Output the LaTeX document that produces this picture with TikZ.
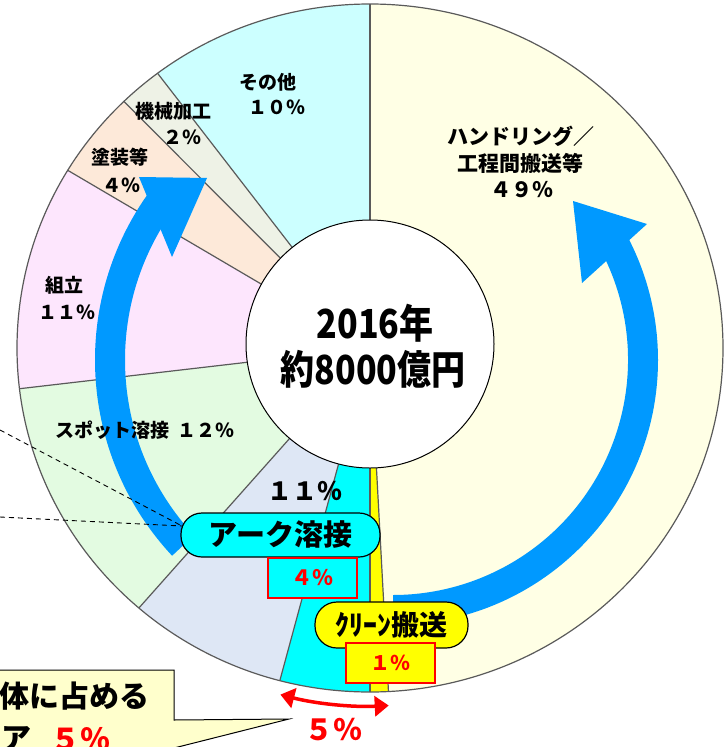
\documentclass[tikz,border=0pt]{standalone}
\usepackage{graphicx}
\usepackage{fontspec}
\setmainfont{Noto Sans CJK JP}
\usetikzlibrary{arrows.meta,calc}
\definecolor{handc}{HTML}{FFFFE5}
\definecolor{othc}{HTML}{CCFFFF}
\definecolor{machc}{HTML}{EEF2E6}
\definecolor{paintc}{HTML}{FDE9D9}
\definecolor{assyc}{HTML}{FDE6FD}
\definecolor{spotc}{HTML}{E3FBE1}
\definecolor{weldc}{HTML}{DEE7F5}
\definecolor{arcc}{HTML}{00FFFF}
\definecolor{cleanc}{HTML}{FFFF00}
\definecolor{bluec}{HTML}{0099FF}
\definecolor{callc}{HTML}{FFFFCC}
\definecolor{linec}{HTML}{5A5A5A}
\tikzset{
  pieline/.style={draw=linec, line width=1.2pt},
  lab/.style={font=\bfseries\fontsize{19}{22}\selectfont, inner sep=0pt},
  labbig/.style={font=\bfseries\fontsize{21}{24}\selectfont, inner sep=0pt},
  pill/.style={draw=black, line width=1.2pt, rounded corners=21pt, minimum width=199pt,
    minimum height=44pt, inner sep=0pt, font=\bfseries\fontsize{29}{32}\selectfont},
  redbox/.style={draw=red, line width=1.5pt, minimum width=89pt, minimum height=40pt,
    inner sep=0pt, text=red, font=\bfseries\fontsize{21}{24}\selectfont},
  callfont/.style={font=\bfseries\fontsize{30}{34}\selectfont, inner sep=0pt},
  bluefill/.style={fill=bluec},
}
\newcommand\pieslice[3]{\fill[#3] (370,348) -- ++(#1:353 and 344)
  arc[start angle=#1, end angle=#2, x radius=353, y radius=344] -- cycle;}
\begin{document}
\begin{tikzpicture}[x=1pt, y=-1pt]
\useasboundingbox (0,0) rectangle (728,747);
% pie slices
\pieslice{-90}{87}{handc}
\pieslice{87}{90}{cleanc}
\pieslice{90}{104.8}{arcc}
\pieslice{104.8}{130.9}{weldc}
\pieslice{130.9}{173.2}{spotc}
\pieslice{173.2}{211.1}{assyc}
\pieslice{211.1}{225.8}{paintc}
\pieslice{225.8}{233}{machc}
\pieslice{233}{270}{othc}
\foreach \a in {-90,87,90,104.8,130.9,173.2,211.1,225.8,233}
  \draw[pieline] (370,348) -- ++(\a:353 and 344);
\draw[pieline] (370,348) ellipse[x radius=353, y radius=344];
% centre disc
\node[circle, draw=black, line width=1pt, fill=white, minimum size=248pt, inner sep=0pt] (ctr) at (370,344) {};
\node[font=\bfseries\fontsize{40}{44}\selectfont, inner sep=0pt] (yr) at (375,323) {\scalebox{0.85}[1]{2016年}};
\node[font=\bfseries\fontsize{40}{44}\selectfont, inner sep=0pt] (amt) at (373,369) {\scalebox{0.85}[1]{約8000億円}};
% blue arrows
\fill[bluefill] (382,360) ++(137:287) arc[start angle=137, end angle=216, radius=287]
  -- ($(382,360)+(216:257)$) arc[start angle=216, end angle=137, radius=257] -- cycle;
\fill[bluefill] (139,177) -- (207,178) -- (172,257) -- cycle;
\fill[bluefill] (393,360) ++(90:265) arc[start angle=90, end angle=-30, radius=265]
  -- ($(393,360)+(-30:235)$) arc[start angle=-30, end angle=90, radius=235] -- cycle;
\fill[bluefill] (573,201) -- (647,224) -- (582,283) -- cycle;
% slice labels
\node[lab] (o1) at (268,82) {その他};
\node[lab] (o2) at (277,107) {１０％};
\node[lab] (m1) at (173,111) {機械加工};
\node[lab] (m2) at (182,137) {２％};
\node[lab] (p1) at (120,157) {塗装等};
\node[lab] (p2) at (121,185) {４％};
\node[lab] (a1) at (64,285) {組立};
\node[lab] (a2) at (67,312) {１１％};
\node[lab] (s1) at (145,430) {スポット溶接\hspace{8pt}１２％};
\node[font=\bfseries\fontsize{25}{28}\selectfont, inner sep=0pt] (w1) at (305,491) {１１％};
\node[labbig] (h1) at (521,136) {ハンドリング／};
\node[labbig] (h2) at (520,163) {工程間搬送等};
\node[labbig] (h3) at (522,190) {４９％};
% arc welding / clean transfer tags
\node[pill, fill=arcc] (aw) at (280.5,535) {アーク溶接};
\node[redbox, fill=arcc] (aw4) at (312.5,578) {４％};
\node[pill, fill=cleanc, minimum width=153pt, minimum height=46pt, rounded corners=22pt,
  font=\bfseries\fontsize{28}{31}\selectfont] (cl) at (391.5,625) {ｸﾘｰﾝ搬送};
\node[redbox, fill=cleanc, font=\bfseries\fontsize{20}{23}\selectfont] (cl1) at (390.5,663) {１％};
% red double arrow
\coordinate (ra) at ($(370,348)+(104.5:358)$);
\draw[red, line width=3.5pt, {Triangle[length=14pt,width=20pt]}-{Triangle[length=14pt,width=20pt]}]
  (ra) arc[start angle=104.5, end angle=87, radius=358];
\node[font=\bfseries\fontsize{29}{32}\selectfont, text=red, inner sep=0pt] (five) at (333,730) {５％};
% callout
\filldraw[fill=callc, draw=black, line width=1pt] (-5,670) -- (174,670) -- (174,720) -- (289,719)
  -- (174,748) -- (174,760) -- (-5,760) -- cycle;
\node[callfont, anchor=east] (c1) at (150,696) {体に占める};
\node[callfont, anchor=east] (c2) at (32,739) {ア};
\node[callfont, anchor=west, text=red] (c3) at (50,739) {５％};
% dashed leader lines
\coordinate (dl1) at (0,430);
\coordinate (dl2) at (0,517);
\coordinate (dj) at (182,526);
\draw[dash pattern=on 5pt off 4pt, line width=0.9pt] (dl1) -- (dj) (dl2) -- (dj);
\end{tikzpicture}
\end{document}
